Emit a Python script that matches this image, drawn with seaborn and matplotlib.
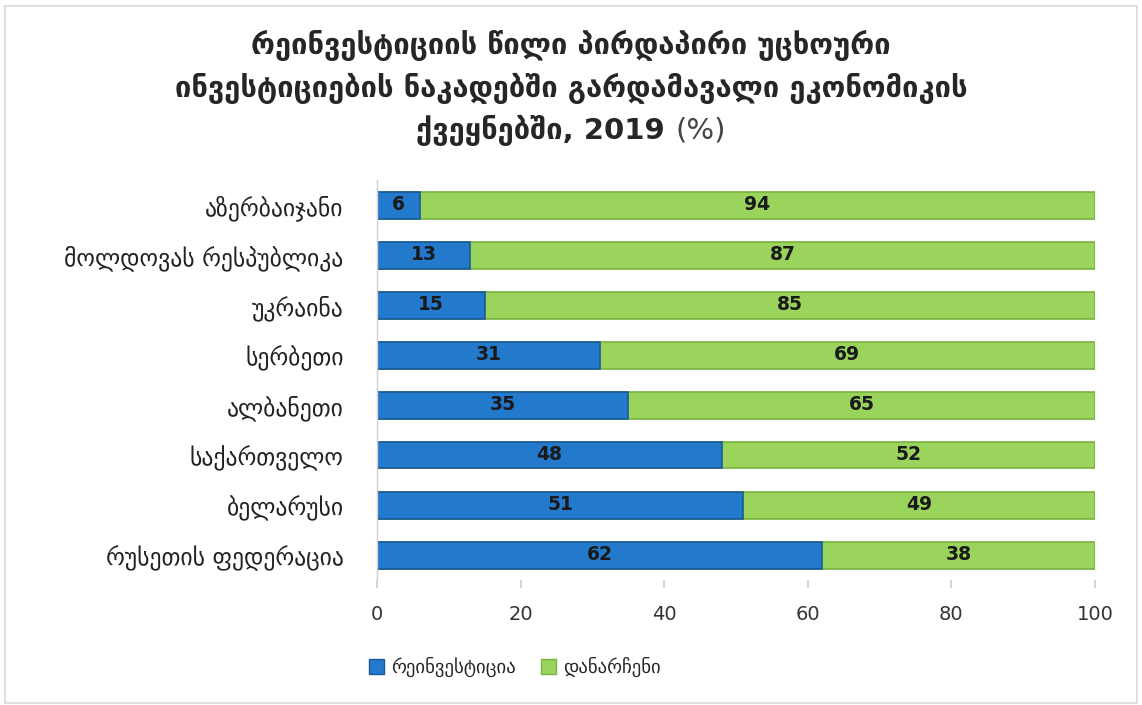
import pandas as pd
import numpy as np
import matplotlib.pyplot as plt
import seaborn as sns
from matplotlib.patches import Patch, Rectangle

# ── data ──────────────────────────────────────────────────────────────
countries = ['აზერბაიჯანი', 'მოლდოვას რესპუბლიკა', 'უკრაინა', 'სერბეთი',
             'ალბანეთი', 'საქართველო', 'ბელარუსი', 'რუსეთის ფედერაცია']
reinvest = [6, 13, 15, 31, 35, 48, 51, 62]
other = [94, 87, 85, 69, 65, 52, 49, 38]
series_names = ['რეინვესტიცია', 'დანარჩენი']
xticks = [0, 20, 40, 60, 80, 100]

df = pd.DataFrame({'country': countries, 'reinvest': reinvest, 'other': other})
df['total'] = df['reinvest'] + df['other']

BLUE = '#2379cc'
BLUE_EDGE = '#1a5a96'
GREEN = '#9bd45c'
GREEN_EDGE = '#78b33e'

sns.set_theme(style='white')
plt.rcParams['font.family'] = ['DejaVu Sans']

fig = plt.figure(figsize=(11.42, 7.05), dpi=100)
ax = fig.add_axes([377 / 1142, 1 - 580 / 705, (1095 - 377) / 1142, (580 - 180) / 705])

# stacked bars: full-length green, then blue share on top
sns.barplot(data=df, x='total', y='country', color=GREEN, edgecolor=GREEN_EDGE,
            linewidth=1.2, width=0.54, saturation=1, ax=ax)
sns.barplot(data=df, x='reinvest', y='country', color=BLUE, edgecolor=BLUE_EDGE,
            linewidth=1.2, width=0.54, saturation=1, ax=ax)

# value labels
for i, (r, o) in enumerate(zip(reinvest, other)):
    ax.text(r / 2, i, str(r), ha='center', va='center', fontsize=13.5,
            fontweight='bold', color='#1a1a1a')
    ax.text(r + o / 2, i, str(o), ha='center', va='center', fontsize=13.5,
            fontweight='bold', color='#1a1a1a')

ax.set_xlim(0, 100)
ax.set_ylim(7.5, -0.5)
ax.set_xticks(xticks)
ax.set_xticklabels([str(t) for t in xticks], fontsize=14, color='#333333')
ax.set_xlabel('')
ax.set_ylabel('')
ax.tick_params(axis='y', labelsize=17, labelcolor='#222222', length=0, pad=24)
ax.tick_params(axis='x', bottom=True, length=6, color='#d0d0d0', pad=12)
for s in ['top', 'right', 'bottom']:
    ax.spines[s].set_visible(False)
ax.spines['left'].set_color('#d0d0d0')
ax.spines['left'].set_linewidth(1)
ax.xaxis.grid(False)

# title
TS = 21
fig.text(0.5, 1 - 45 / 705, 'რეინვესტიციის წილი პირდაპირი უცხოური',
         ha='center', va='center', fontsize=TS, fontweight='bold')
fig.text(0.5, 1 - 88 / 705, 'ინვესტიციების ნაკადებში გარდამავალი ეკონომიკის',
         ha='center', va='center', fontsize=TS, fontweight='bold')
t1 = fig.text(0.5, 1 - 130 / 705, 'ქვეყნებში, 2019 ', ha='right', va='center',
              fontsize=TS, fontweight='bold')
t2 = fig.text(0.5, 1 - 130 / 705, '(%)', ha='left', va='center', fontsize=TS,
              color='#444444')
fig.canvas.draw()
r = fig.canvas.get_renderer()
w1 = t1.get_window_extent(r).width / fig.bbox.width
w2 = t2.get_window_extent(r).width / fig.bbox.width
shift = (w1 - w2) / 2
t1.set_x(0.5 + shift)
t2.set_x(0.5 + shift)

# legend
handles = [Patch(facecolor=BLUE, edgecolor=BLUE_EDGE, label=series_names[0]),
           Patch(facecolor=GREEN, edgecolor=GREEN_EDGE, label=series_names[1])]
fig.legend(handles=handles, loc='center left', bbox_to_anchor=(352 / 1142, 1 - 667 / 705),
           ncol=2, frameon=False, fontsize=13.5, handlelength=0.8, handleheight=0.8,
           columnspacing=1.3, handletextpad=0.4)

# outer chart border
fig.patches.append(Rectangle((5 / 1142, 2 / 705), 1 - 10 / 1142, 1 - 8 / 705,
                             transform=fig.transFigure, fill=False,
                             edgecolor='#d9d9d9', linewidth=1.2))

fig.savefig('out.png', dpi=100, facecolor='white')
